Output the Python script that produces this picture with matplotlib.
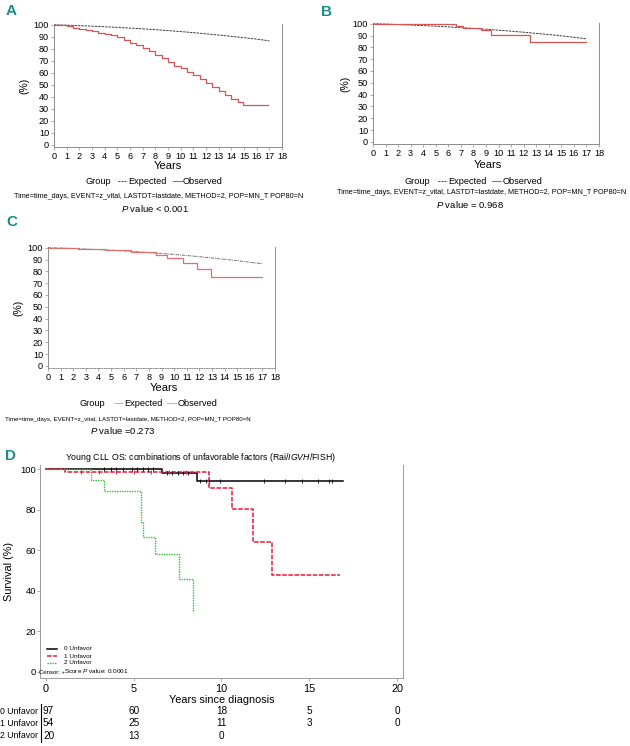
import matplotlib
matplotlib.use('Agg')
import numpy as np
import matplotlib.pyplot as plt
import matplotlib.font_manager as fm
from matplotlib.lines import Line2D
from matplotlib.transforms import blended_transform_factory

W, H = 630, 746

names = {f.name for f in fm.fontManager.ttflist}
NARROW = 'Liberation Sans Narrow' if 'Liberation Sans Narrow' in names else 'Liberation Sans'
plt.rcParams['font.family'] = [NARROW, 'DejaVu Sans']
plt.rcParams['mathtext.fontset'] = 'custom'
plt.rcParams['mathtext.rm'] = NARROW
plt.rcParams['mathtext.it'] = NARROW + ':italic'

TEAL = '#1a8c8c'
SPINE = '#8c8c8c'

# ---- panel A ----
years = list(range(18))
a_expected = [100, 99.6, 99.2, 98.8, 98.3, 97.8, 97.2, 96.6, 95.9, 95.1,
              94.3, 93.4, 92.4, 91.4, 90.3, 89.2, 88.0, 86.6]
a_obs_t = [0, 0.5, 1, 1.5, 2, 2.5, 3, 3.5, 4, 4.5, 5, 5.5, 6, 6.5, 7, 7.5,
           8, 8.5, 9, 9.5, 10, 10.5, 11, 11.5, 12, 12.5, 13, 13.5, 14, 14.5,
           14.9, 16.9]
a_obs = [100, 99.5, 98.6, 97.6, 96.4, 95.5, 94.4, 93.4, 92.4, 91.2, 89.4,
         87.3, 85.0, 82.8, 80.4, 77.8, 74.8, 72.0, 69.0, 66.0, 63.6, 61.0,
         58.0, 55.0, 51.5, 48.3, 45.0, 41.5, 38.4, 35.5, 33.3, 33.3]

# ---- panel B ----
b_expected = [100, 99.7, 99.3, 98.9, 98.4, 97.9, 97.3, 96.7, 96.0, 95.3,
              94.5, 93.7, 92.8, 91.8, 90.8, 89.7, 88.5, 87.2]
b_obs_t = [0, 6.6, 7.2, 8.6, 9.4, 12.5, 17.0]
b_obs = [100, 98.3, 96.3, 94.3, 90.7, 84.2, 84.2]

# ---- panel C ----
c_expected = [100, 99.7, 99.3, 98.9, 98.4, 97.9, 97.3, 96.6, 95.9, 95.1,
              94.3, 93.4, 92.4, 91.3, 90.2, 89.0, 87.7, 86.4]
c_obs_t = [0, 2.4, 4.5, 6.6, 8.6, 9.4, 10.7, 11.8, 12.9, 17.0]
c_obs = [100, 99.2, 98.0, 96.5, 94.0, 91.2, 87.2, 82.0, 75.3, 75.3]

# ---- panel D ----
d_groups = ['0 Unfavor', '1 Unfavor', '2 Unfavor']
d0_t = [0, 6.6, 8.6, 16.9]
d0_s = [100, 98.2, 94.1, 94.1]
d1_t = [0, 1.1, 9.3, 10.6, 11.8, 12.9, 16.75]
d1_s = [100, 98.5, 90.6, 80.3, 64.0, 48.0, 48.0]
d2_t = [0, 2.55, 3.3, 5.4, 5.5, 6.2, 7.6, 8.4]
d2_s = [100, 94.5, 89.0, 74.0, 66.5, 58.0, 46.0, 30.2]
d0_censor = [3.3, 3.7, 4.0, 4.4, 4.9, 5.2, 5.5, 5.8, 6.1, 6.9, 7.2, 7.5,
             7.8, 8.1, 8.8, 9.1, 9.3, 9.9, 12.4, 13.6, 14.6, 15.5, 16.1, 16.3]
d1_censor = [2.0, 3.0, 4.0, 5.0, 6.0, 7.0, 8.0]
risk_times = [0, 5, 10, 15, 20]
risk_counts = [[97, 60, 18, 5, 0], [54, 25, 11, 3, 0], [20, 13, 0]]


def rect(l, t, r, b):
    return [l / W, 1 - b / H, (r - l) / W, (b - t) / H]


def fx(px):
    return px / W


def fy(py):
    return 1 - py / H


fig = plt.figure(figsize=(6.3, 7.46), dpi=100)


def ftext(x, y, s, **kw):
    kw.setdefault('ha', 'center')
    kw.setdefault('va', 'center')
    fig.text(fx(x), fy(y), s, **kw)


def fline(x0, x1, y, **kw):
    fig.add_artist(Line2D([fx(x0), fx(x1)], [fy(y), fy(y)], transform=fig.transFigure, **kw))


def survival_panel(box, ylab_x, exp_s, obs_t, obs_s, exp_kw, obs_kw, bottom_kw=None):
    ax = fig.add_axes(rect(*box))
    ax.plot(years, exp_s, **exp_kw)
    ax.step(obs_t, obs_s, where='post', **obs_kw)
    ax.set_xlim(0, 18)
    ax.set_ylim(-1.8, 100.6)
    ax.set_xticks(range(19))
    ax.set_yticks(range(0, 101, 10))
    ax.tick_params(labelsize=6.6, length=2, width=0.5, pad=1.5, color=SPINE)
    ax.spines['top'].set_visible(False)
    for s in ['left', 'bottom', 'right']:
        ax.spines[s].set_color(SPINE)
        ax.spines[s].set_linewidth(0.7)
    if bottom_kw:
        ax.spines['bottom'].set(**bottom_kw)
    ax.set_ylabel('(%)', fontsize=7.5)
    ax.yaxis.set_label_coords((ylab_x - box[0]) / (box[2] - box[0]), 0.5)
    return ax


def group_legend(y, gx, items):
    ftext(gx, y, 'Group', fontsize=6.6)
    for (x0, x1, tx, label, kw) in items:
        fline(x0, x1, y - 1, **kw)
        ftext(tx, y, label, fontsize=6.6, ha='left')


red = '#d95555'
dark = '#3a3a48'
TIME_TXT = 'Time=time_days, EVENT=z_vital, LASTDT=lastdate, METHOD=2, POP=MN_T POP80=N'

# Panel A
axA = survival_panel((54, 24, 282, 147), 29, a_expected, a_obs_t, a_obs,
                     dict(color=dark, lw=0.7, ls=(0, (2.5, 1))),
                     dict(color=red, lw=0.9))
ftext(11.5, 11, 'A', fontsize=11, fontweight='bold', color=TEAL)
ftext(168, 166, 'Years', fontsize=8)
group_legend(182, 98, [(118, 127, 128, 'Expected', dict(color=dark, lw=0.7, ls=(0, (2, 1)))),
                       (173, 182, 183, 'Observed', dict(color=red, lw=0.8))])
ftext(159, 197, TIME_TXT, fontsize=5.2)
ftext(155, 208, r'$\it{P}$ value < 0.001', fontsize=6.8)

# Panel B
axB = survival_panel((373, 23, 599, 144), 350, b_expected, b_obs_t, b_obs,
                     dict(color=dark, lw=0.7, ls=(0, (2.5, 1))),
                     dict(color=red, lw=0.9))
ftext(327, 11.5, 'B', fontsize=11, fontweight='bold', color=TEAL)
ftext(488, 165, 'Years', fontsize=8)
group_legend(182, 417, [(438, 447, 448, 'Expected', dict(color=dark, lw=0.7, ls=(0, (2, 1)))),
                        (492, 501, 503, 'Observed', dict(color=red, lw=0.8))])
ftext(482, 193, TIME_TXT, fontsize=5.2)
ftext(470, 204, r'$\it{P}$ value = 0.968', fontsize=6.8)

# Panel C
lightgray = '#6a6a6a'
pink = '#e07070'
axC = survival_panel((48, 247, 275, 368), 23, c_expected, c_obs_t, c_obs,
                     dict(color=lightgray, lw=0.7, ls=(0, (3, 1, 1, 1))),
                     dict(color=pink, lw=0.9),
                     bottom_kw=dict(linestyle=(0, (1, 1.5))))
ftext(11.5, 222.5, 'C', fontsize=11, fontweight='bold', color=TEAL)
ftext(164, 388, 'Years', fontsize=8)
group_legend(404, 92, [(115, 122, 124, 'Expected', dict(color='#b0b0b0', lw=0.7)),
                       (167, 176, 178, 'Observed', dict(color='#eab0b0', lw=0.8))])
ftext(128, 419, TIME_TXT, fontsize=4.4)
ftext(123, 430, r'$\it{P}$ value =0.273', fontsize=6.8)

# Panel D
axD = fig.add_axes(rect(40, 465, 403, 678))
d_styles = [dict(color='black', lw=1.1, ls='-'),
            dict(color='#e8193c', lw=1.1, ls=(0, (3, 1))),
            dict(color='#3cb83c', lw=1.0, ls=(0, (1, 0.8)))]
for t, s, kw in zip([d0_t, d1_t, d2_t], [d0_s, d1_s, d2_s], d_styles):
    axD.step(t, s, where='post', **kw)
for cens, t, s, kw in [(d0_censor, d0_t, d0_s, d_styles[0]), (d1_censor, d1_t, d1_s, d_styles[1])]:
    idx = np.searchsorted(t, cens, side='right') - 1
    axD.plot(cens, np.array(s)[idx], ls='none', marker='|', ms=3, mew=0.6, color=kw['color'])
axD.set_xlim(-0.34, 20.34)
axD.set_ylim(-2.96, 102)
axD.set_xticks(risk_times)
axD.set_yticks(range(0, 101, 20))
axD.tick_params(axis='y', labelsize=6.8, length=2, width=0.5, pad=1, color=SPINE)
axD.tick_params(axis='x', labelsize=7.8, length=2, width=0.5, pad=2, color=SPINE)
axD.spines['top'].set_visible(False)
for s in ['left', 'bottom', 'right']:
    axD.spines[s].set_color('#9a9a9a')
    axD.spines[s].set_linewidth(0.7)
axD.set_xlabel('Years since diagnosis', fontsize=7.8, labelpad=1)
axD.set_ylabel('Survival (%)', fontsize=7.8)
axD.yaxis.set_label_coords((14 - 40) / (403 - 40), 0.5)
ftext(10, 456, 'D', fontsize=11, fontweight='bold', color=TEAL)
ftext(200, 458, r'Young CLL OS: combinations of unfavorable factors (Rai/$\it{IGVH}$/FISH)',
      fontsize=6.3)

# legend inside D
for yy, label, kw in zip([649, 656, 663], d_groups, d_styles):
    fline(47, 57, yy, color=kw['color'], lw=kw['lw'], ls=kw['ls'])
    ftext(64, yy, label, fontsize=4.6, ha='left')
ftext(39, 673, 'Censor: +', fontsize=4.3, ha='left')
ftext(64, 671, r'Score $\it{P}$ value: 0.0001', fontsize=4.6, ha='left')

# number at risk table
tr = blended_transform_factory(axD.transData, fig.transFigure)
for row, (label, counts) in enumerate(zip(d_groups, risk_counts)):
    y = 711 + row * 12.5
    ftext(0.5, y, label, fontsize=6.3, ha='left')
    ftext(43, y, str(counts[0]), fontsize=7.2, ha='left')
    for t, n in zip(risk_times[1:], counts[1:]):
        axD.text(t, fy(y), str(n), transform=tr, fontsize=7.2, ha='center', va='center')
fig.add_artist(Line2D([fx(41.3), fx(41.3)], [fy(704), fy(742)], transform=fig.transFigure,
                      color='black', lw=0.8))

fig.savefig('out.png', dpi=100)
